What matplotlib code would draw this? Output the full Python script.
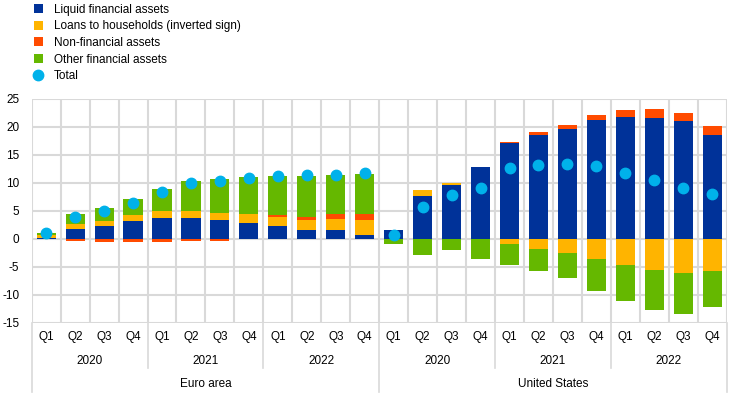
import numpy as np
import matplotlib
matplotlib.use("Agg")
import matplotlib.pyplot as plt
from matplotlib.patches import Patch
from matplotlib.lines import Line2D
from matplotlib.transforms import blended_transform_factory

plt.rcParams["font.family"] = ["Liberation Sans", "DejaVu Sans"]
plt.rcParams["axes.unicode_minus"] = False

# data (percentage points)
regions = ["Euro area", "United States"]
years = ["2020", "2021", "2022"]
quarters = ["Q1", "Q2", "Q3", "Q4"]

liquid = [0.15, 1.73, 2.2, 3.15, 3.75, 3.6, 3.27, 2.8, 2.26, 1.55, 1.5, 0.65,
          1.55, 7.68, 9.5, 12.74, 17.0, 18.57, 19.5, 21.25, 21.7, 21.6, 20.95, 18.45]
loans = [0.45, 0.95, 0.95, 1.13, 1.19, 1.25, 1.37, 1.55, 1.67, 1.8, 2.0, 2.7,
         0.0, 1.0, 0.35, 0.0, -0.98, -1.93, -2.53, -3.66, -4.67, -5.57, -6.1, -5.74]
nonfin = [-0.1, -0.45, -0.55, -0.6, -0.55, -0.5, -0.35, -0.15, 0.2, 0.45, 0.85, 1.13,
          0.0, 0.0, 0.0, 0.0, 0.25, 0.42, 0.71, 0.89, 1.19, 1.49, 1.55, 1.67]
other = [0.35, 1.67, 2.3, 2.74, 3.99, 5.42, 6.0, 6.6, 7.0, 7.44, 6.96, 7.14,
         -1.0, -2.95, -2.0, -3.72, -3.7, -3.93, -4.46, -5.6, -6.49, -7.14, -7.38, -6.49]
total = [1.05, 3.93, 4.94, 6.43, 8.39, 9.88, 10.36, 10.83, 11.19, 11.3, 11.37, 11.67,
         0.6, 5.71, 7.86, 9.1, 12.62, 13.2, 13.3, 12.98, 11.79, 10.42, 9.1, 7.92]

series = [
    ("Liquid financial assets", liquid, "#003299"),
    ("Loans to households (inverted sign)", loans, "#ffb400"),
    ("Non-financial assets", nonfin, "#ff4b00"),
    ("Other financial assets", other, "#65b800"),
]

n = len(total)
x = np.arange(n)
grid_col = "#d9d9d9"

fig = plt.figure(figsize=(7.44, 3.95), dpi=100)
ax = fig.add_axes([0.0426, 0.183, 0.9342, 0.5676])

# grid
for yv in range(-15, 30, 5):
    ax.axhline(yv, color=grid_col, lw=1.5, zorder=0)
for xv in np.arange(-0.5, n, 1.0):
    ax.axvline(xv, color=grid_col, lw=1.5, zorder=0)

# stacked bars, positives and negatives stacked separately
pos_base = np.zeros(n)
neg_base = np.zeros(n)
for name, vals, col in series:
    v = np.array(vals)
    bottom = np.where(v >= 0, pos_base, neg_base)
    ax.bar(x, v, 0.66, bottom=bottom, color=col, zorder=2, linewidth=0)
    pos_base += np.where(v >= 0, v, 0)
    neg_base += np.where(v < 0, v, 0)

ax.plot(x, total, "o", color="#00b1ea", markersize=7.5, zorder=3, linestyle="none")

ax.set_xlim(-0.5, n - 0.5)
ax.set_ylim(-15, 25)
ax.set_yticks(range(-15, 30, 5))
ax.set_xticks([])
ax.tick_params(axis="y", length=0, labelsize=8.5, pad=9, colors="#000000")
for s in ax.spines.values():
    s.set_visible(False)

# multi-level category axis
tr = blended_transform_factory(ax.transData, fig.transFigure)
y_bot = 0.183
for i in range(n):
    ax.text(i, 0.146, quarters[i % 4], transform=tr, ha="center", va="center", fontsize=8.5)
for r in range(len(regions)):
    for k, yr in enumerate(years):
        c = r * 12 + k * 4 + 1.5
        ax.text(c, 0.087, yr, transform=tr, ha="center", va="center", fontsize=8.5)
    ax.text(r * 12 + 5.5, 0.028, regions[r], transform=tr, ha="center", va="center", fontsize=8.5)
for b in np.arange(-0.5, n, 4):
    if (b + 0.5) % 12 == 0:
        y_end = 0.008
    else:
        y_end = 0.068
    ax.plot([b, b], [y_bot, y_end], transform=tr, color=grid_col, lw=1.2, clip_on=False)

# legend
handles = [Patch(facecolor=c, edgecolor="none") for _, _, c in series]
handles.append(Line2D([], [], marker="o", color="#00b1ea", linestyle="none", markersize=7.5))
labels = [s[0] for s in series] + ["Total"]
fig.legend(handles, labels, loc="upper left", bbox_to_anchor=(0.039, 1.003),
           frameon=False, fontsize=8.5, handlelength=0.8, handleheight=0.8,
           handletextpad=0.9, labelspacing=0.4, borderaxespad=0)

fig.savefig("out.png", dpi=100)
